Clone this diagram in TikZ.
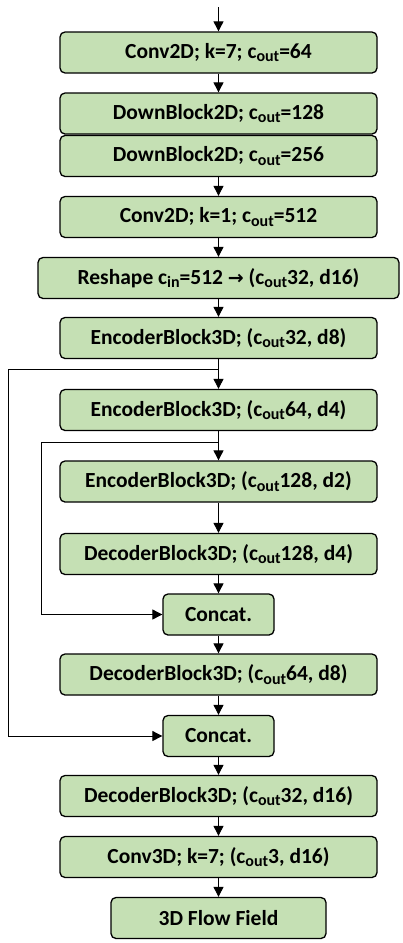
\documentclass[tikz,border=0pt]{standalone}
\usepackage{fontspec}
\setmainfont{Carlito}
\newfontfamily\dejavu{DejaVu Sans}
\usetikzlibrary{arrows.meta}
\newcommand\sbt[1]{\raisebox{-0.36ex}{\fontsize{16}{16}\selectfont #1}}
\begin{document}
\begin{tikzpicture}[x=1pt,y=-1pt,
  blk/.style={draw=black,line width=1.3pt,rounded corners=5pt,fill=blkfill,
    minimum height=41pt,minimum width=317pt,inner sep=0pt,
    font=\fontsize{21.5}{21.5}\selectfont\bfseries},
  conn/.style={line width=0.9pt,-{Triangle[width=10pt,length=10pt]}}]
\definecolor{blkfill}{HTML}{C5E0B4}
\useasboundingbox (0,0) rectangle (402,943);
\fill[white] (0,0) rectangle (402,943);
\node[blk] (b1) at (218.5,52.5) {Conv2D; k=7; c\sbt{out}=64};
\node[blk] (b2) at (218.5,113.5) {DownBlock2D; c\sbt{out}=128};
\node[blk] (b3) at (218.5,156) {DownBlock2D; c\sbt{out}=256};
\node[blk] (b4) at (218.5,217) {Conv2D; k=1; c\sbt{out}=512};
\node[blk,minimum width=361pt] (rs) at (218.5,278) {Reshape c\sbt{in}=512 {\dejavu\bfseries\fontsize{19}{19}\selectfont →} (c\sbt{out}32, d16)};
\node[blk] (e32) at (218.5,338) {EncoderBlock3D; (c\sbt{out}32, d8)};
\node[blk] (e64) at (218.5,410) {EncoderBlock3D; (c\sbt{out}64, d4)};
\node[blk] (e128) at (218.5,481.5) {EncoderBlock3D; (c\sbt{out}128, d2)};
\node[blk] (d128) at (218.5,554) {DecoderBlock3D; (c\sbt{out}128, d4)};
\node[blk,minimum width=111pt] (c1) at (218.5,614.5) {Concat.};
\node[blk] (d64) at (218.5,674.5) {DecoderBlock3D; (c\sbt{out}64, d8)};
\node[blk,minimum width=111pt] (c2) at (218.5,736) {Concat.};
\node[blk] (d32) at (218.5,796) {DecoderBlock3D; (c\sbt{out}32, d16)};
\node[blk] (c3d) at (218.5,857) {Conv3D; k=7; (c\sbt{out}3, d16)};
\node[blk,minimum width=215pt] (ff) at (218.5,918) {3D Flow Field};
\coordinate (in) at (218.5,7);
\coordinate (s1) at (218.5,369);
\coordinate (s1a) at (8,369);
\coordinate (s1b) at (8,736);
\coordinate (s2) at (218.5,442);
\coordinate (s2a) at (41,442);
\coordinate (s2b) at (41,614.5);
\draw[conn] (in) -- (b1);
\draw[conn] (b1) -- (b2);
\draw[conn] (b3) -- (b4);
\draw[conn] (b4) -- (rs);
\draw[conn] (rs) -- (e32);
\draw[conn] (e32) -- (e64);
\draw[conn] (e64) -- (e128);
\draw[conn] (e128) -- (d128);
\draw[conn] (d128) -- (c1);
\draw[conn] (c1) -- (d64);
\draw[conn] (d64) -- (c2);
\draw[conn] (c2) -- (d32);
\draw[conn] (d32) -- (c3d);
\draw[conn] (c3d) -- (ff);
\draw[conn] (s1) -- (s1a) -- (s1b) -- (c2.west);
\draw[conn] (s2) -- (s2a) -- (s2b) -- (c1.west);
\end{tikzpicture}
\end{document}
